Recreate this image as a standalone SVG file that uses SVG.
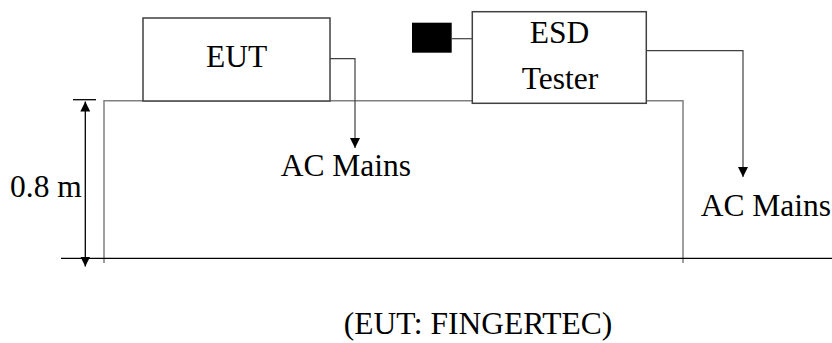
<svg xmlns="http://www.w3.org/2000/svg" width="832" height="343" viewBox="0 0 832 343">
<style>
.t{font-family:'Liberation Serif','Times New Roman',serif;font-size:31.5px;fill:#000}
.box{fill:#fff;stroke:#404040;stroke-width:1.5}
.tbl{fill:none;stroke:#808080;stroke-width:1.5}
.wire{fill:none;stroke:#404040;stroke-width:1.2}
.blk{fill:none;stroke:#000;stroke-width:1.3}
</style>
<defs>
<marker id="ah" viewBox="0 0 10 10" refX="10" refY="5" markerWidth="10" markerHeight="10" markerUnits="userSpaceOnUse" orient="auto">
<path d="M0,0 L10,5 L0,10 Z" fill="#000"/>
</marker>
</defs>
<g id="table">
<path class="tbl" d="M104,263 V100.7 H683 V263"/>
</g>
<g id="ground">
<line class="blk" x1="61" y1="258.3" x2="832" y2="258.3"/>
</g>
<g id="eut">
<rect class="box" x="143" y="18" width="187" height="83"/>
<text class="t" x="236.7" y="67.3" text-anchor="middle">EUT</text>
</g>
<g id="probe">
<rect x="412" y="22.7" width="39.7" height="30" fill="#000"/>
</g>
<g id="esd">
<rect class="box" x="472.3" y="11.7" width="174" height="91.6"/>
<text class="t" x="559.5" y="43.3" text-anchor="middle">ESD</text>
<text class="t" x="560" y="89" text-anchor="middle">Tester</text>
</g>
<g id="mains1">
<text class="t" x="280.7" y="176">AC Mains</text>
</g>
<g id="mains2">
<text class="t" x="700.7" y="216">AC Mains</text>
</g>
<g id="height">
<text class="t" x="10" y="197.3">0.8 m</text>
</g>
<g id="caption">
<text class="t" x="478" y="334" text-anchor="middle">(EUT: FINGERTEC)</text>
</g>
<g id="connectors">
<polyline class="wire" points="330,58.7 355,58.7 355,148" marker-end="url(#ah)"/>
<line class="wire" x1="451.7" y1="38.7" x2="472.3" y2="38.7"/>
<polyline class="wire" points="646.3,50.7 743,50.7 743,177" marker-end="url(#ah)"/>
<line class="blk" x1="73" y1="99.7" x2="96" y2="99.7"/>
<line class="blk" x1="85.3" y1="180" x2="85.3" y2="101.5" marker-end="url(#ah)"/>
<line class="blk" x1="85.3" y1="180" x2="85.3" y2="266.5" marker-end="url(#ah)"/>
</g>
</svg>
